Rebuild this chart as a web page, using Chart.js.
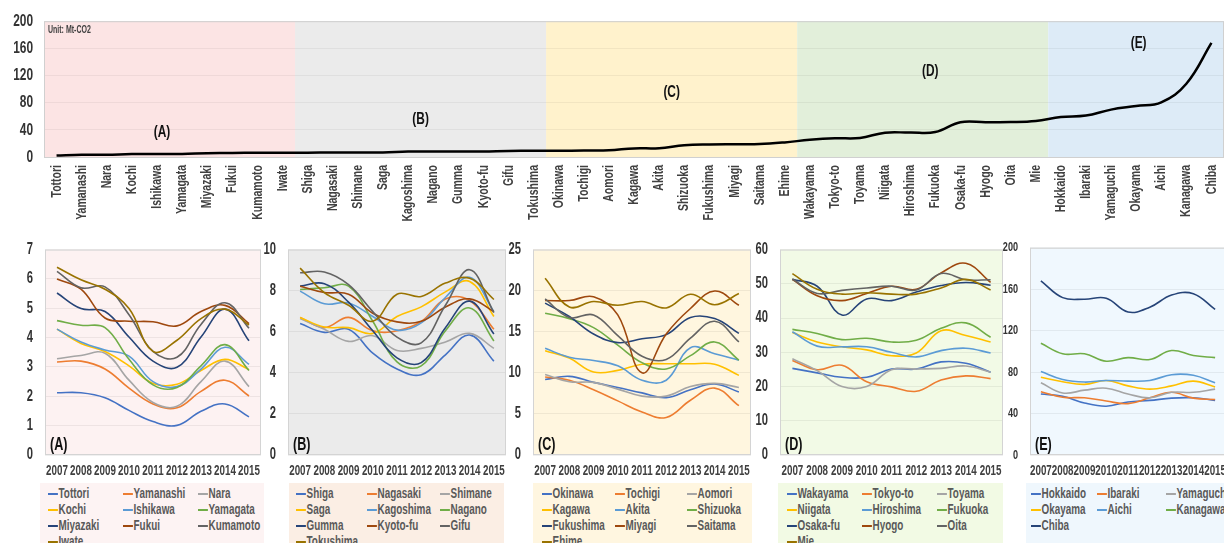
<!DOCTYPE html>
<html>
<head>
<meta charset="utf-8">
<script src="https://cdn.jsdelivr.net/npm/chart.js@4.4.1/dist/chart.umd.min.js"></script>
<style>
  html, body { margin: 0; padding: 0; background: #fff; }
  body { width: 1224px; height: 543px; overflow: hidden; position: relative;
         font-family: 'Liberation Sans', Arial, sans-serif; }
  canvas { position: absolute; }
  .legend { position: absolute; height: 80px; }
  .item { position: absolute; white-space: nowrap; font-size: 15px; font-weight: bold; color: #595959;
          line-height: 16px; transform: scaleX(0.66); transform-origin: 0 50%; }
  .item i { display: inline-block; width: 15px; height: 2px; vertical-align: middle; margin-right: 1px; }
</style>
</head>
<body>
<canvas id="topChart" width="1224" height="230" style="left:0;top:0"></canvas>
<script>
// ---- data ----
const years = ['2007', '2008', '2009', '2010', '2011', '2012', '2013', '2014', '2015'];

const namesA = ['Tottori', 'Yamanashi', 'Nara', 'Kochi', 'Ishikawa', 'Yamagata', 'Miyazaki', 'Fukui', 'Kumamoto', 'Iwate'];
const valuesA = [
    [2.12, 2.12, 1.95, 1.52, 1.14, 1.01, 1.49, 1.74, 1.30],
    [3.17, 3.20, 2.93, 2.28, 1.74, 1.61, 2.17, 2.55, 2.01],
    [3.28, 3.39, 3.47, 2.55, 1.79, 1.66, 2.50, 3.20, 2.33],
    [4.29, 3.80, 3.53, 3.04, 2.44, 2.41, 2.88, 3.26, 2.91],
    [4.29, 3.85, 3.58, 3.37, 2.50, 2.33, 2.93, 3.67, 3.09],
    [4.58, 4.42, 4.34, 3.26, 2.39, 2.30, 3.04, 3.76, 2.88],
    [5.52, 4.99, 4.89, 4.02, 3.20, 2.99, 4.02, 4.97, 3.89],
    [6.00, 5.65, 4.67, 4.56, 4.54, 4.40, 4.89, 5.10, 4.48],
    [6.26, 5.70, 5.73, 4.78, 3.53, 3.33, 4.45, 5.19, 4.32],
    [6.40, 5.97, 5.65, 4.99, 3.53, 3.91, 4.65, 4.97, 4.43]
];

const namesB = ['Shiga', 'Nagasaki', 'Shimane', 'Saga', 'Kagoshima', 'Nagano', 'Gumma', 'Kyoto-fu', 'Gifu', 'Tokushima'];
const valuesB = [
    [6.40, 5.97, 6.12, 4.96, 4.19, 3.91, 4.88, 5.84, 4.57],
    [6.70, 6.20, 6.70, 6.05, 6.05, 6.50, 7.60, 7.52, 6.12],
    [6.64, 6.12, 5.53, 5.81, 5.09, 5.19, 5.50, 5.92, 5.19],
    [6.70, 6.23, 6.20, 5.92, 6.74, 7.21, 7.94, 8.45, 6.74],
    [7.98, 7.36, 7.40, 6.74, 6.08, 6.43, 7.67, 8.65, 6.98],
    [8.06, 8.14, 8.22, 6.51, 4.53, 4.34, 6.05, 7.16, 5.55],
    [8.22, 8.34, 7.44, 6.05, 4.73, 4.50, 6.20, 7.49, 5.89],
    [8.22, 7.91, 7.83, 6.90, 6.48, 6.51, 7.21, 7.60, 6.98],
    [8.87, 8.91, 8.29, 6.98, 5.74, 5.46, 7.29, 9.02, 6.93],
    [9.10, 7.91, 7.29, 6.51, 7.83, 7.72, 8.37, 8.60, 7.57]
];

const namesC = ['Okinawa', 'Tochigi', 'Aomori', 'Kagawa', 'Akita', 'Shizuoka', 'Fukushima', 'Miyagi', 'Saitama', 'Ehime'];
const valuesC = [
    [9.19, 9.57, 8.84, 8.22, 7.56, 6.98, 7.95, 8.64, 7.67],
    [9.50, 9.11, 7.95, 6.59, 5.23, 4.57, 6.67, 8.14, 6.00],
    [9.81, 8.91, 8.84, 8.02, 7.17, 7.17, 8.33, 8.72, 8.22],
    [12.7, 11.8, 10.1, 10.3, 11.05, 11.1, 11.1, 11.05, 9.69],
    [12.98, 11.9, 11.5, 10.85, 9.1, 9.1, 13.06, 12.33, 11.55],
    [17.25, 16.6, 15.5, 13.37, 11.24, 10.47, 12.09, 13.76, 11.55],
    [18.49, 16.86, 14.73, 13.68, 14.15, 14.65, 16.74, 16.6, 14.8],
    [18.8, 18.8, 19.26, 17.05, 10.0, 14.73, 17.83, 19.96, 18.22],
    [18.99, 16.74, 17.05, 14.53, 12.02, 11.63, 14.22, 16.28, 13.76],
    [21.5, 18.02, 18.68, 18.22, 18.68, 17.9, 19.57, 18.29, 19.65]
];

const namesD = ['Wakayama', 'Tokyo-to', 'Toyama', 'Niigata', 'Hiroshima', 'Fukuoka', 'Osaka-fu', 'Hyogo', 'Oita', 'Mie'];
const valuesD = [
    [25.3, 24.0, 22.7, 22.7, 25.1, 25.1, 27.2, 26.8, 24.2],
    [27.6, 24.9, 26.2, 21.4, 19.9, 18.6, 21.9, 23.1, 22.3],
    [28.1, 24.65, 20.0, 20.0, 24.9, 25.1, 25.3, 26.0, 24.2],
    [35.8, 33.0, 31.6, 30.7, 29.0, 29.8, 36.3, 34.9, 33.0],
    [36.0, 31.8, 31.6, 31.6, 30.0, 28.65, 30.5, 31.2, 29.8],
    [36.7, 35.5, 33.7, 34.1, 33.0, 33.5, 37.0, 38.6, 34.4],
    [51.3, 49.3, 40.9, 45.6, 45.1, 47.6, 49.5, 50.4, 49.6],
    [51.3, 46.5, 45.1, 47.2, 49.3, 48.4, 53.2, 56.0, 50.4],
    [51.4, 47.2, 48.1, 48.8, 49.3, 48.2, 53.0, 51.2, 51.2],
    [53.0, 48.4, 47.0, 47.4, 47.0, 47.0, 48.8, 51.3, 48.2]
];

const namesE = ['Hokkaido', 'Ibaraki', 'Yamaguchi', 'Okayama', 'Aichi', 'Kanagawa', 'Chiba'];
const valuesE = [
    [58.9, 56.7, 50.2, 47.1, 51.2, 52.7, 54.9, 55.2, 52.7],
    [61.1, 55.8, 55.2, 52.1, 49.6, 55.2, 60.5, 54.9, 53.6],
    [69.8, 59.8, 62.6, 64.5, 58.9, 55.2, 60.5, 60.5, 63.6],
    [75.0, 70.7, 68.2, 71.9, 66.7, 63.6, 66.7, 71.3, 65.7],
    [80.6, 72.9, 70.4, 71.9, 71.3, 71.9, 77.5, 76.9, 69.8],
    [107.9, 97.7, 97.7, 90.5, 94.0, 92.1, 100.8, 96.1, 94.0],
    [168.1, 151.9, 150.4, 151.3, 138.0, 142.6, 154.4, 155.7, 140.5]
];

// top chart: 2007 emissions, ordered by group
const topValues = [
    2.1, 3.2, 3.3, 4.3, 4.3, 4.6, 5.5, 6.0, 6.3, 6.4,
    6.4, 6.7, 6.6, 6.7, 8.0, 8.1, 8.2, 8.2, 8.9, 9.1,
    9.2, 9.5, 9.8, 12.7, 13.0, 17.3, 18.5, 18.8, 19.0, 21.5,
    25.3, 27.6, 28.1, 35.8, 36.0, 36.7, 51.3, 51.3, 51.4, 53.0,
    58.9, 61.1, 69.8, 75.0, 80.6, 107.9, 168.1
];
const groupTags = ['(A)', '(B)', '(C)', '(D)', '(E)'];

// ---- styles ----
const FONT = "'Liberation Sans', Arial, sans-serif";
const TXT = '#404040';
const SQUEEZE = 0.7;   // fake a condensed face: text is drawn narrower
const palette = ['#4472C4', '#ED7D31', '#A5A5A5', '#FFC000', '#5B9BD5', '#70AD47', '#264478', '#9E480E', '#636363', '#997300'];
const bandColors = ['#FCE4E4', '#EBEBEB', '#FFF2CC', '#E2EFDA', '#DDEBF7'];
const tagPos = [[4.2, 36], [14.5, 55], [24.5, 95], [34.8, 126], [43.1, 167]];

const groups = [namesA, namesB, namesC, namesD, namesE];
const allNames = [].concat(...groups);

// every fillText on this canvas is squeezed horizontally (in text direction)
function condense(canvas, sx) {
    const ctx = canvas.getContext('2d');
    const fill = ctx.fillText.bind(ctx);
    const measure = ctx.measureText.bind(ctx);
    ctx.fillText = function (text, x, y) {
        this.save();
        this.translate(x, y);
        this.scale(sx, 1);
        fill(text, 0, 0);
        this.restore();
    };
    ctx.measureText = function (text) {
        const m = measure(text);
        return {
            width: m.width * sx,
            actualBoundingBoxAscent: m.actualBoundingBoxAscent,
            actualBoundingBoxDescent: m.actualBoundingBoxDescent
        };
    };
}

// bands + labels for the overview chart
const bandsPlugin = {
    id: 'bands',
    beforeDraw(chart) {
        const { ctx, chartArea: a, scales: { x } } = chart;
        const half = (x.getPixelForValue(1) - x.getPixelForValue(0)) / 2;
        let start = 0;
        ctx.save();
        groups.forEach((g, gi) => {
            const end = start + g.length - 1;
            const x0 = gi === 0 ? a.left : x.getPixelForValue(start) - half;
            const x1 = gi === groups.length - 1 ? a.right : x.getPixelForValue(end) + half;
            ctx.fillStyle = bandColors[gi];
            ctx.fillRect(x0, a.top, x1 - x0, a.bottom - a.top);
            start = end + 1;
        });
        ctx.restore();
    },
    beforeDatasetsDraw(chart) {
        const { ctx, chartArea: a } = chart;
        ctx.save();
        ctx.strokeStyle = '#D0D0D0';
        ctx.lineWidth = 1;
        ctx.strokeRect(a.left + 0.5, a.top + 0.5, a.right - a.left - 1, a.bottom - a.top);
        ctx.fillStyle = '#404040';
        ctx.font = 'bold 10px ' + FONT;
        ctx.textBaseline = 'top';
        ctx.fillText('Unit: Mt-CO2', a.left + 4, a.top + 4);
        ctx.restore();
    },
    afterDatasetsDraw(chart) {
        const { ctx, scales: { x, y } } = chart;
        ctx.save();
        ctx.fillStyle = '#111';
        ctx.font = 'bold 17px ' + FONT;
        ctx.textAlign = 'center';
        ctx.textBaseline = 'middle';
        groupTags.forEach((t, i) => {
            ctx.fillText(t, x.getPixelForValue(tagPos[i][0]), y.getPixelForValue(tagPos[i][1]));
        });
        ctx.restore();
    }
};

const topCanvas = document.getElementById('topChart');
condense(topCanvas, SQUEEZE);
new Chart(topCanvas, {
    type: 'line',
    data: {
        labels: allNames,
        datasets: [{
            data: topValues,
            borderColor: '#000',
            borderWidth: 2.5,
            pointRadius: 0,
            tension: 0.4,
            fill: false
        }]
    },
    options: {
        responsive: false,
        animation: false,
        devicePixelRatio: 1,
        layout: { padding: { top: 19, right: 0, left: 0, bottom: 0 } },
        plugins: { legend: { display: false }, tooltip: { enabled: false } },
        scales: {
            x: {
                offset: true,
                grid: { display: false, drawTicks: false },
                border: { display: false },
                ticks: {
                    autoSkip: false, minRotation: 90, maxRotation: 90, padding: 8,
                    color: TXT, font: { family: FONT, size: 15, weight: 'bold' }
                },
                afterFit(s) { s.height = 73; s.paddingLeft = 0; s.paddingRight = 0; }
            },
            y: {
                min: 0, max: 200,
                grid: { color: 'rgba(0,0,0,0.05)', drawTicks: false },
                border: { display: false },
                ticks: { stepSize: 40, padding: 11, color: '#333', font: { family: FONT, size: 17, weight: 'bold' } },
                afterFit(s) { s.width = 44; }
            }
        }
    },
    plugins: [bandsPlugin]
});

// ---- small panels ----
const panelPlugin = {
    id: 'panelDeco',
    beforeDraw(chart, args, opts) {
        const { ctx, chartArea: a } = chart;
        ctx.save();
        ctx.fillStyle = opts.bg;
        ctx.fillRect(a.left, a.top, a.right - a.left, a.bottom - a.top);
        ctx.restore();
    },
    beforeDatasetsDraw(chart) {
        const { ctx, chartArea: a } = chart;
        ctx.save();
        ctx.strokeStyle = '#D4D4D4';
        ctx.lineWidth = 1;
        ctx.strokeRect(a.left + 0.5, a.top + 0.5, a.right - a.left - 1, a.bottom - a.top - 1);
        ctx.restore();
    },
    afterDatasetsDraw(chart, args, opts) {
        const { ctx, chartArea: a } = chart;
        ctx.save();
        ctx.fillStyle = '#111';
        ctx.font = 'bold 18px ' + FONT;
        ctx.textBaseline = 'bottom';
        ctx.fillText(opts.tag, a.left + 5, a.bottom - 1);
        ctx.restore();
    }
};

const panels = [
    { tag: '(A)', names: namesA, values: valuesA, max: 7, step: 1, tickSize: 16, left: 0, yw: 45, pw: 216,
      bg: '#FDF2F2', legendBg: '#FDF3F3', legendLeft: 40, legendWidth: 224, cols: [8, 83, 158] },
    { tag: '(B)', names: namesB, values: valuesB, max: 10, step: 2, tickSize: 16, left: 248, yw: 40, pw: 218,
      bg: '#EBEBEB', legendBg: '#FBEEE4', legendLeft: 289, legendWidth: 215, cols: [7, 78, 151] },
    { tag: '(C)', names: namesC, values: valuesC, max: 25, step: 5, tickSize: 16, left: 500, yw: 33, pw: 218,
      bg: '#FFF6DF', legendBg: '#FFF6E0', legendLeft: 533, legendWidth: 219, cols: [9, 82, 154] },
    { tag: '(D)', names: namesD, values: valuesD, max: 60, step: 10, tickSize: 16, left: 740, yw: 40, pw: 223,
      bg: '#F2FAE6', legendBg: '#F2FAE4', legendLeft: 778, legendWidth: 225, cols: [9, 84, 159] },
    { tag: '(E)', names: namesE, values: valuesE, max: 200, step: 40, tickSize: 13, left: 990, yw: 40, pw: 196,
      bg: '#F0F8FE', legendBg: '#EFF7FD', legendLeft: 1026, legendWidth: 230, cols: [5, 71, 140] }
];

function buildLegend(p, chart) {
    const box = document.createElement('div');
    box.className = 'legend';
    box.style.left = p.legendLeft + 'px';
    box.style.top = '483px';
    box.style.width = p.legendWidth + 'px';
    box.style.background = p.legendBg;
    chart.data.datasets.forEach((ds, i) => {
        const it = document.createElement('div');
        it.className = 'item';
        it.style.left = p.cols[i % 3] + 'px';
        it.style.top = (2 + Math.floor(i / 3) * 16) + 'px';
        it.innerHTML = '<i style="background:' + ds.borderColor + '"></i>' + ds.label;
        box.appendChild(it);
    });
    document.body.appendChild(box);
}

panels.forEach(p => {
    const cv = document.createElement('canvas');
    cv.width = p.yw + p.pw + 4;
    cv.height = 252;
    cv.style.left = p.left + 'px';
    cv.style.top = '228px';
    document.body.appendChild(cv);
    condense(cv, SQUEEZE);

    const chart = new Chart(cv, {
        type: 'line',
        data: {
            labels: years,
            datasets: p.names.map((n, i) => ({
                label: n,
                data: p.values[i],
                borderColor: palette[i],
                backgroundColor: palette[i],
                borderWidth: 1.6,
                pointRadius: 0,
                tension: 0.4,
                fill: false,
                order: -i
            }))
        },
        options: {
            responsive: false,
            animation: false,
            devicePixelRatio: 1,
            layout: { padding: { top: 12, right: 4, left: 0, bottom: 0 } },
            plugins: {
                legend: { display: false },
                tooltip: { enabled: false },
                panelDeco: { bg: p.bg, tag: p.tag }
            },
            scales: {
                x: {
                    offset: true,
                    grid: { display: false, drawTicks: false },
                    border: { display: false },
                    ticks: {
                        autoSkip: false, maxRotation: 0, padding: 8,
                        color: TXT, font: { family: FONT, size: 14, weight: 'bold' }
                    },
                    afterFit(s) { s.height = 25; s.paddingLeft = 0; s.paddingRight = 0; }
                },
                y: {
                    min: 0, max: p.max,
                    grid: { color: 'rgba(0,0,0,0.06)', drawTicks: false },
                    border: { display: false },
                    ticks: { stepSize: p.step, padding: 12, color: '#333', font: { family: FONT, size: p.tickSize, weight: 'bold' } },
                    afterFit(s) { s.width = p.yw; }
                }
            }
        },
        plugins: [panelPlugin]
    });
    buildLegend(p, chart);
});
</script>
</body>
</html>
